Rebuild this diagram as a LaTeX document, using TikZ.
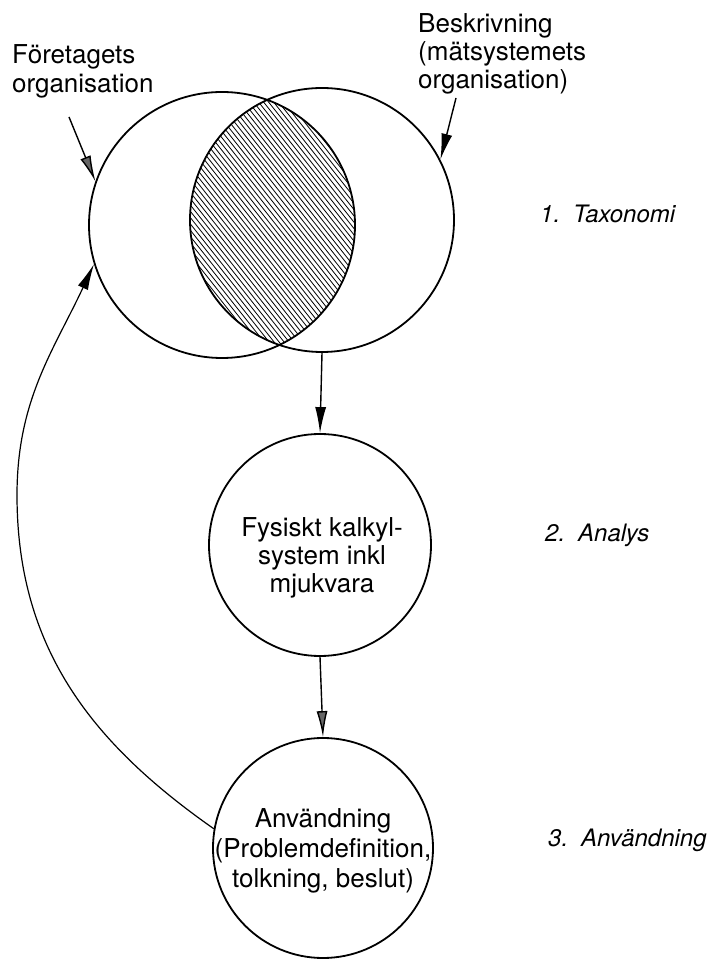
\documentclass[tikz,border=0pt]{standalone}
\usepackage{fontspec}
\setmainfont{TeX Gyre Heros}
\usepackage{tikz}
\usetikzlibrary{arrows.meta}

\begin{document}
\begin{tikzpicture}[scale=1.000000,x=1pt,y=1pt,
  ring/.style={draw,circle,line width=1.8pt,inner sep=0pt},
  txt/.style={inner sep=0pt,align=center,font=\fontsize{26}{28}\selectfont},
  tag/.style={inner sep=0pt,anchor=base west,font=\fontsize{24}{28}\selectfont\itshape},
  blk/.style={-{Latex[length=26pt,width=11pt]},line width=1.4pt},
  gry/.style={-{Latex[length=26pt,width=11pt,fill=black!60]},line width=1.4pt}]
\fill[white] (0,0) rectangle (715,959);
\useasboundingbox (0,0) rectangle (715,959);
% Hatching of the common part
\begin{scope}
\clip (222,734) circle (133);
\clip (322,739) circle (132);
\foreach \x in {-130,-125,...,250}
  \draw[line width=0.8pt] (\x,1000) -- (\x+794,0);
\end{scope}
% Drawing circles
% Circle 1: org
\node[ring,minimum size=266pt] (org) at (222,734) {};
% Circle 2: desc
\node[ring,minimum size=264pt] (desc) at (322,739) {};
% Circle 3: ana
\node[ring,minimum size=222pt] (ana) at (320,414) {};
% Circle 4: use
\node[ring,minimum size=220pt] (use) at (323,111) {};
% Done with circles; drawing texts
\node[txt,align=left,anchor=north west,font=\fontsize{26}{29}\selectfont] (orgtext) at (12,915) {Företagets\\organisation};
\node[txt,align=left,anchor=north west] (desctext) at (418,946) {Beskrivning\\(mätsystemets\\organisation)};
\node[txt,anchor=north] (anatext) at (322,442) {Fysiskt kalkyl-\\system inkl\\mjukvara};
\node[txt,anchor=north,font=\fontsize{26}{30}\selectfont] (usetext) at (323,151) {Användning\\(Problemdefinition,\\tolkning, beslut)};
% Step labels
\node[tag] (tag1) at (540,736) {1.\hspace{13pt}Taxonomi};
\node[tag] (tag2) at (545,417) {2.\hspace{13pt}Analys};
\node[tag] (tag3) at (548,112) {3.\hspace{13pt}Användning};
% Done with texts; drawing arrows
\coordinate (orgfrom) at (69,842);
\coordinate (descfrom) at (456,861);
\coordinate (bend) at (17,464);
\draw[gry] (orgfrom) -- (org.161);
\draw[blk] (descfrom) -- (desc.27);
\draw[blk] (desc.south) -- (ana.north);
\draw[gry] (ana.south) -- (use.north);
\draw[blk,line width=1.2pt] (use.170) to[out=145,in=-90] (bend) to[out=90,in=245] (org.197);
% Done with arrows
\end{tikzpicture}
\end{document}
